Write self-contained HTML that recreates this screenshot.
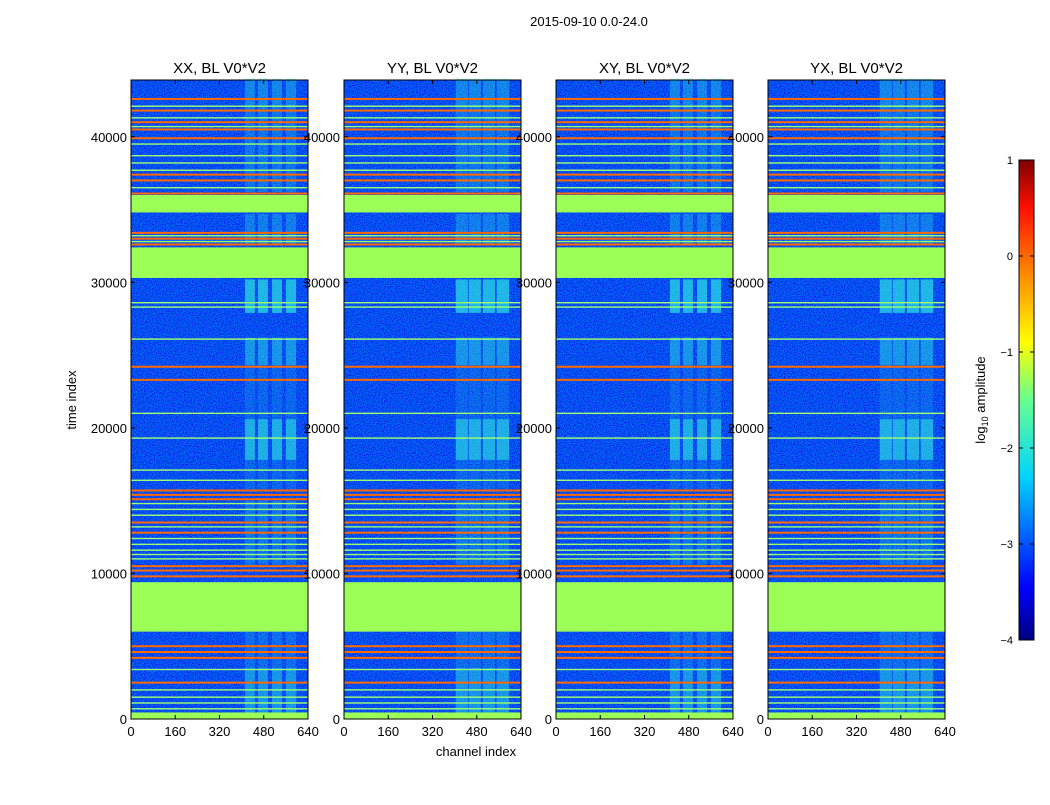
<!DOCTYPE html>
<html><head><meta charset="utf-8">
<style>
body{margin:0;background:#fff;font-family:"Liberation Sans",sans-serif;}
svg text{font-family:"Liberation Sans",sans-serif;}
</style></head>
<body>
<svg id="fig" width="1050" height="800" viewBox="0 0 1050 800" xmlns="http://www.w3.org/2000/svg">
<defs>
<filter id="noise" x="0" y="0" width="100%" height="100%">
<feTurbulence type="fractalNoise" baseFrequency="0.9" numOctaves="1" seed="3" result="t"/>
<feColorMatrix in="t" type="matrix" values="0 0 0 0 0  0 0 0 1.6 -0.55  0 0 0 0 1  0 0 0 0 1"/>
</filter>
<linearGradient id="jet" x1="0" y1="1" x2="0" y2="0">
<stop offset="0" stop-color="#00007f"/>
<stop offset="0.11" stop-color="#0000ff"/>
<stop offset="0.34" stop-color="#00d4ff"/>
<stop offset="0.5" stop-color="#66ff90"/>
<stop offset="0.62" stop-color="#ffff00"/>
<stop offset="0.78" stop-color="#ff7a00"/>
<stop offset="0.9" stop-color="#ff1000"/>
<stop offset="1" stop-color="#7f0000"/>
</linearGradient>
</defs>
<text x="589" y="26" font-size="13" text-anchor="middle">2015-09-10 0.0-24.0</text>
<text x="476" y="756" font-size="13" text-anchor="middle">channel index</text>
<text x="76" y="400" font-size="13" text-anchor="middle" transform="rotate(-90 76 400)">time index</text>
<g id="panels"></g>
<g id="cbar">
<rect x="1019" y="160" width="15" height="480" fill="url(#jet)" stroke="#000" stroke-width="1"/>
</g>
<text x="985" y="400" font-size="13" text-anchor="middle" transform="rotate(-90 985 400)">log<tspan font-size="9" dy="3">10</tspan><tspan dy="-3"> amplitude</tspan></text>
</svg>
<script>
const titles = ["XX, BL V0*V2","YY, BL V0*V2","XY, BL V0*V2","YX, BL V0*V2"];
const xTicks = [0,160,320,480,640];
const yTicks = [0,10000,20000,30000,40000];
const greenBlocks = [[34800,36000],[30300,32400],[6000,9400],[0,450]];
const orangeLines = [42600,41800,41000,40500,39900,37400,37000,36100,33400,33000,32600,24200,23300,15700,15400,15100,13500,12800,10500,10200,9800,5000,4600,4200,2500];
const lightLines = [42100,41300,40700,39500,38700,38200,37700,36500,33200,32800,28600,28300,26100,21000,19300,17100,16400,14800,14400,14000,13200,12400,12000,11600,11300,11000,3400,2000,1500,1100,700];
const brightChannels = [[412,448],[459,495],[510,546],[560,597]];
const brightSpans = [[42000,44000,0.35],[36200,42000,0.25],[32600,34700,0.3],[27900,30200,0.65],[24300,26200,0.45],[17800,20600,0.6],[10600,15000,0.25],[300,3500,0.45],[3500,6000,0.2],[20600,24200,0.15],[15800,17800,0.15]];

const X0s=[131,344,556,768], W=177, TOP=80, BOT=719, TMAX=43900;
const ns="http://www.w3.org/2000/svg";
function mk(tag,attrs,parent){const e=document.createElementNS(ns,tag);for(const k in attrs)e.setAttribute(k,attrs[k]);parent.appendChild(e);return e;}
function yOf(t){return BOT-(t/TMAX)*(BOT-TOP);}
const root=document.getElementById('panels');
X0s.forEach((x0,p)=>{
  const xOf=c=>x0+c/640*W;
  const g=mk('g',{},root);
  
  
  const bg=mk('rect',{x:x0,y:TOP,width:W,height:BOT-TOP,fill:'#0a26e6'},g);
  
  
  const nz=mk('rect',{x:x0,y:TOP,width:W,height:BOT-TOP,filter:'url(#noise)',opacity:0.45},g);
  
  
  brightSpans.forEach(s=>{brightChannels.forEach(c=>{
    const c0=c[0]-(p%2?8:0);
    const r=mk('rect',{x:xOf(c0),y:yOf(s[1]),width:xOf(c[1])-xOf(c0),height:yOf(s[0])-yOf(s[1]),fill:'#30f0e0',opacity:s[2]},g);
    
    
  });});
  lightLines.forEach(t=>{const r=mk('rect',{x:x0,y:yOf(t)-0.7,width:W,height:1.4,fill:'#a0ff70'},g);
    
    });
  orangeLines.forEach(t=>{const r=mk('rect',{x:x0,y:yOf(t)-1,width:W,height:2,fill:'#ff6a00'},g);
    
    });
  greenBlocks.forEach(b=>{const r=mk('rect',{x:x0,y:yOf(b[1]),width:W,height:yOf(b[0])-yOf(b[1]),fill:'#9cff58'},g);
    
    });
  const fr=mk('rect',{x:x0,y:TOP,width:W,height:BOT-TOP,fill:'none',stroke:'#000','stroke-width':1},g);
  
  
  const tt=mk('text',{x:x0+W/2,y:73,'font-size':15,'text-anchor':'middle'},g);tt.textContent=titles[p];
  
  
  xTicks.forEach(v=>{const x=xOf(v);
    mk('line',{x1:x,x2:x,y1:BOT,y2:BOT-4,stroke:'#000'},g);mk('line',{x1:x,x2:x,y1:TOP,y2:TOP+4,stroke:'#000'},g);
    const t=mk('text',{x:x,y:736,'font-size':13,'text-anchor':'middle'},g);t.textContent=v;
    
    });
  yTicks.forEach(v=>{const y=yOf(v);
    mk('line',{x1:x0,x2:x0+4,y1:y,y2:y,stroke:'#000'},g);mk('line',{x1:x0+W,x2:x0+W-4,y1:y,y2:y,stroke:'#000'},g);
    const t=mk('text',{x:x0-4,y:y+5,'font-size':13,'text-anchor':'end'},g);t.textContent=v;
    
    });
});
const cbTicks=[1,0,-1,-2,-3,-4];
const cb=document.getElementById('cbar');
cbTicks.forEach(v=>{const y=160+(1-v)*96;
  mk('line',{x1:1019,x2:1023,y1:y,y2:y,stroke:'#000'},cb);mk('line',{x1:1034,x2:1030,y1:y,y2:y,stroke:'#000'},cb);
  const t=mk('text',{x:1013,y:y+4,'font-size':11,'text-anchor':'end'},cb);t.textContent=v<0?'\u2212'+(-v):v;
  
  });
</script>
</body></html>
